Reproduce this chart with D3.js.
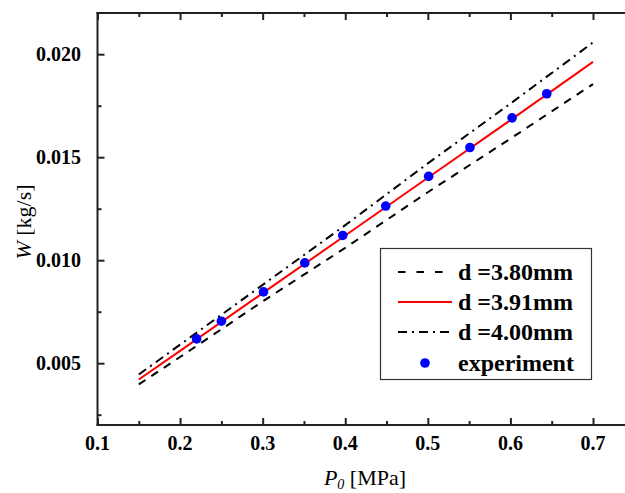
<!DOCTYPE html>
<html>
<head>
<meta charset="utf-8">
<script src="https://cdn.jsdelivr.net/npm/d3@7/dist/d3.min.js"></script>
<style>
  body { margin: 0; background: #fff; }
  svg { display: block; font-family: "Liberation Serif", "Times New Roman", serif; }
</style>
</head>
<body>
<svg id="chart"></svg>
<script>
// pressure values (MPa) for the model curves
let pressure = [0.15, 0.2, 0.3, 0.4, 0.5, 0.6, 0.7];
// mass flow (kg/s) for each nozzle diameter
let flow380 = [0.00397, 0.0053, 0.0080, 0.0106, 0.0133, 0.0159, 0.01855];
let flow391 = [0.00421, 0.0056, 0.0084, 0.0112, 0.0140, 0.0168, 0.01963];
let flow400 = [0.00445, 0.0059, 0.0088, 0.0117, 0.0147, 0.0176, 0.02057];
// measured points
let expPressure = [0.220, 0.250, 0.301, 0.351, 0.397, 0.449, 0.501, 0.551, 0.602, 0.644];
let expFlow = [0.00618, 0.00704, 0.00846, 0.00987, 0.01120, 0.01263, 0.01407, 0.01547, 0.01691, 0.01808];

let xTicks = [0.1, 0.2, 0.3, 0.4, 0.5, 0.6, 0.7];
let yTicks = [0.005, 0.010, 0.015, 0.020];
let legendLabels = ["d =3.80mm", "d =3.91mm", "d =4.00mm", "experiment"];

let width = 625, height = 493;
let margin = {top: 13, bottom: 68, left: 97.5};

let svg = d3.select("#chart")
  .attr("width", width)
  .attr("height", height);

let x = d3.scaleLinear()
  .domain([0.1, 0.75])
  .range([margin.left, margin.left + 0.65 * (495.5 / 0.6)]);

let y = d3.scaleLinear()
  .domain([0.002, 0.022])
  .range([height - margin.bottom, margin.top]);

let xMinor = d3.range(0.15, 0.75, 0.1);
let yMinor = d3.range(0.0025, 0.021, 0.005);

// axes, ticks pointing into the plot
let axisBottomG = svg.append("g")
  .attr("transform", "translate(0," + y(0.002) + ")")
  .call(d3.axisTop(x).tickValues(xTicks).tickSize(7).tickFormat(""));
let axisBottomMinor = svg.append("g")
  .attr("transform", "translate(0," + y(0.002) + ")")
  .call(d3.axisTop(x).tickValues(xMinor).tickSize(4).tickFormat(""));
let axisTopG = svg.append("g")
  .attr("transform", "translate(0," + y(0.022) + ")")
  .call(d3.axisBottom(x).tickValues(xTicks).tickSize(7).tickFormat(""));
let axisTopMinor = svg.append("g")
  .attr("transform", "translate(0," + y(0.022) + ")")
  .call(d3.axisBottom(x).tickValues(xMinor).tickSize(4).tickFormat(""));
let axisLeftG = svg.append("g")
  .attr("transform", "translate(" + x(0.1) + ",0)")
  .call(d3.axisRight(y).tickValues(yTicks).tickSize(7).tickFormat(""));
let axisLeftMinor = svg.append("g")
  .attr("transform", "translate(" + x(0.1) + ",0)")
  .call(d3.axisRight(y).tickValues(yMinor).tickSize(4).tickFormat(""));

[axisBottomG, axisBottomMinor, axisTopG, axisTopMinor, axisLeftG, axisLeftMinor].forEach(function(g) {
  g.select(".domain").remove();
  g.selectAll(".tick line").attr("stroke", "#222").attr("stroke-width", 2);
});

// frame lines
svg.append("line")
  .attr("x1", x(0.1) - 1).attr("x2", width)
  .attr("y1", y(0.002)).attr("y2", y(0.002))
  .attr("stroke", "#222").attr("stroke-width", 2);
svg.append("line")
  .attr("x1", x(0.1) - 1).attr("x2", width)
  .attr("y1", y(0.022)).attr("y2", y(0.022))
  .attr("stroke", "#222").attr("stroke-width", 2);
svg.append("line")
  .attr("x1", x(0.1)).attr("x2", x(0.1))
  .attr("y1", y(0.022) - 1).attr("y2", y(0.002) + 1)
  .attr("stroke", "#222").attr("stroke-width", 2);

// tick labels
svg.append("g").selectAll("text")
  .data(xTicks)
  .enter().append("text")
  .attr("x", function(d) { return x(d); })
  .attr("y", 450)
  .attr("text-anchor", "middle")
  .style("font-size", "20px")
  .style("font-weight", "bold")
  .text(function(d) { return d3.format(".1f")(d); });

svg.append("g").selectAll("text")
  .data(yTicks)
  .enter().append("text")
  .attr("x", 81)
  .attr("y", function(d) { return y(d); })
  .attr("dy", "0.35em")
  .attr("text-anchor", "end")
  .style("font-size", "20px")
  .style("font-weight", "bold")
  .text(function(d) { return d3.format(".3f")(d); });

// axis titles
let xTitle = svg.append("text")
  .attr("x", 365)
  .attr("y", 485)
  .attr("text-anchor", "middle")
  .style("font-size", "22px");
xTitle.append("tspan").style("font-style", "italic").text("P");
xTitle.append("tspan").style("font-style", "italic").style("font-size", "14px").attr("dy", 4).text("0");
xTitle.append("tspan").attr("dy", -4).text(" [MPa]");

let yTitle = svg.append("text")
  .attr("transform", "translate(31,222) rotate(-90)")
  .attr("text-anchor", "middle")
  .style("font-size", "22px");
yTitle.append("tspan").style("font-style", "italic").text("W");
yTitle.append("tspan").text(" [kg/s]");

// model curves
let line = d3.line()
  .x(function(d) { return x(d[0]); })
  .y(function(d) { return y(d[1]); });

let series = [
  {values: flow380, color: "#000", dash: "8,7"},
  {values: flow391, color: "#ff0000", dash: null},
  {values: flow400, color: "#000", dash: "9,5,2,5"}
];

series.forEach(function(s) {
  svg.append("path")
    .datum(pressure.map(function(p, i) { return [p, s.values[i]]; }))
    .attr("fill", "none")
    .attr("stroke", s.color)
    .attr("stroke-width", 2)
    .attr("stroke-dasharray", s.dash)
    .attr("d", line);
});

svg.append("g").selectAll("circle")
  .data(expPressure)
  .enter().append("circle")
  .attr("cx", function(d) { return x(d); })
  .attr("cy", function(d, i) { return y(expFlow[i]); })
  .attr("r", 4.8)
  .attr("fill", "#0000ff");

// legend
let legend = svg.append("g");
legend.append("rect")
  .attr("x", 380.5).attr("y", 248.5)
  .attr("width", 211).attr("height", 131)
  .attr("fill", "#fff")
  .attr("stroke", "#333")
  .attr("stroke-width", 1.2);

let rowY = [272, 302, 332, 363];
legendLabels.forEach(function(label, i) {
  if (i < 3) {
    legend.append("line")
      .attr("x1", 398).attr("x2", 452)
      .attr("y1", rowY[i]).attr("y2", rowY[i])
      .attr("stroke", series[i].color)
      .attr("stroke-width", 2)
      .attr("stroke-dasharray", i == 0 ? "7.5,11" : series[i].dash);
  } else {
    legend.append("circle")
      .attr("cx", 425).attr("cy", rowY[i])
      .attr("r", 4.8)
      .attr("fill", "#0000ff");
  }
  legend.append("text")
    .attr("x", 458)
    .attr("y", rowY[i])
    .attr("dy", "0.35em")
    .style("font-size", "24px")
    .style("font-weight", "bold")
    .text(label);
});
</script>
</body>
</html>
